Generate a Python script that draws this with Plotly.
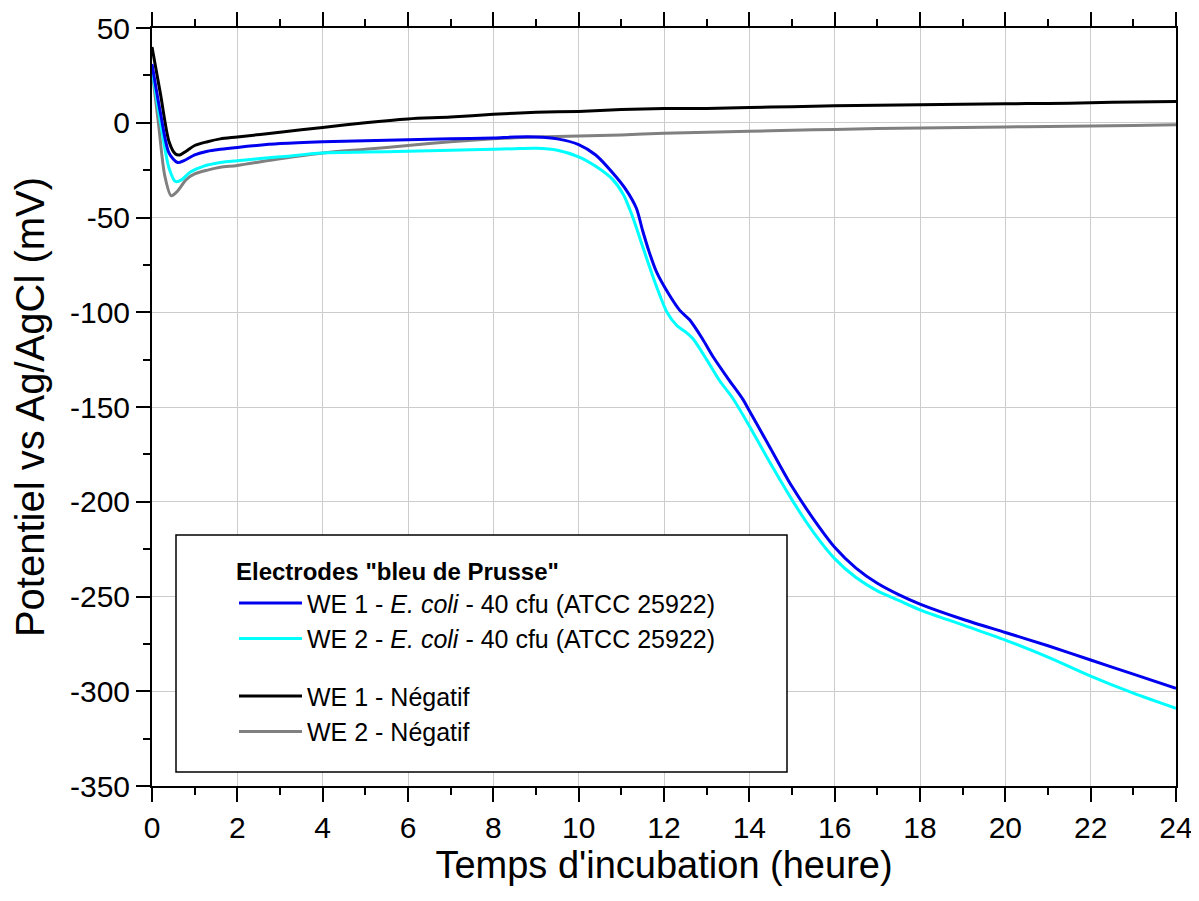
import plotly.graph_objects as go

# Temps (heure) / potentiel (mV)
t_we1_neg = [0, 0.2, 0.4, 0.55, 0.65, 0.8, 1.0, 1.3, 1.6, 2, 3, 4, 5, 6, 7, 8, 9, 10, 11, 12,
             13, 14, 15, 16, 17, 18, 19, 20, 21, 22, 23, 24]
v_we1_neg = [40, 15, -10, -16.5, -17, -15, -12, -10, -8.5, -7.5, -5, -2.5, 0, 2, 3, 4.5, 5.5, 6, 7, 7.5,
             7.5, 8, 8.5, 9, 9.2, 9.5, 9.8, 10, 10.2, 10.5, 11, 11.2]

t_we2_neg = [0, 0.15, 0.3, 0.45, 0.6, 0.8, 1.0, 1.3, 1.6, 2, 3, 4, 5, 6, 7, 8, 9, 10, 11, 12,
             13, 14, 15, 16, 17, 18, 19, 20, 21, 22, 23, 24]
v_we2_neg = [28, 0, -28, -38.5, -36, -30, -27, -25, -23.5, -22.5, -19, -16, -14, -12, -10, -8.5, -7.5, -7,
             -6.5, -5.5, -5, -4.5, -4, -3.5, -3, -2.8, -2.5, -2.2, -2, -1.7, -1.4, -1]

t_we1_ecoli = [0, 0.2, 0.4, 0.6, 0.75, 1.0, 1.3, 1.6, 2, 3, 4, 5, 6, 7, 8, 8.5, 9, 9.5, 10, 10.4,
               10.8, 11.1, 11.35, 11.5, 11.65, 11.83, 12.1, 12.37, 12.6, 12.9, 13.15, 13.5, 13.85,
               14, 14.5, 15, 15.5, 16, 16.5, 17, 17.5, 18, 19, 20, 21, 22, 23, 24]
v_we1_ecoli = [31, 5, -16, -21, -20, -17, -15, -14, -13, -11, -10, -9.5, -9, -8.5, -8, -7.5, -7.5, -8.5,
               -11.5, -17, -26.5, -35, -45, -57, -68, -79, -90, -99, -104, -114, -123.5, -135, -146,
               -152, -172, -192, -209, -224, -235, -243, -249, -254, -262, -269, -276, -283.5, -291,
               -298.5]

t_we2_ecoli = [0, 0.2, 0.4, 0.55, 0.7, 0.9, 1.2, 1.6, 2, 3, 4, 5, 6, 7, 8, 8.5, 9, 9.5, 10, 10.4,
               10.8, 11.05, 11.27, 11.45, 11.6, 11.85, 12.07, 12.3, 12.54, 12.68, 13, 13.3, 13.6,
               14, 14.5, 15, 15.5, 16, 16.5, 17, 17.5, 18, 19, 20, 21, 22, 23, 24]
v_we2_ecoli = [29, 0, -24, -31, -30, -26, -23, -21, -20, -18, -16, -15.5, -15, -14.5, -14, -13.7, -13.5,
               -14.5, -18, -23, -30, -38, -50, -62, -72, -88, -100, -107, -111, -114, -125, -136, -145,
               -160, -180, -199, -216, -230, -240, -247, -252, -257, -265, -273, -282, -292, -301, -309]

x_ticks = list(range(0, 25, 2))
y_ticks = [50, 0, -50, -100, -150, -200, -250, -300, -350]
y_ticktext = [str(v) for v in y_ticks]  # trait d'union simple, pas de signe moins unicode

FONT = "Liberation Sans, Arial, sans-serif"

series = [
    (t_we1_ecoli, v_we1_ecoli, "WE 1 - <i>E. coli</i> - 40 cfu (ATCC 25922)", "#0000ee", "ecoli"),
    (t_we2_ecoli, v_we2_ecoli, "WE 2 - <i>E. coli</i> - 40 cfu (ATCC 25922)", "#00ffff", "ecoli"),
    (t_we1_neg, v_we1_neg, "WE 1 - Négatif", "#000000", "neg"),
    (t_we2_neg, v_we2_neg, "WE 2 - Négatif", "#808080", "neg"),
]

fig = go.Figure()
# negatives drawn first so the E. coli curves sit on top; legendrank keeps the legend order
for rank, (t, v, name, color, group) in reversed(list(enumerate(series))):
    fig.add_trace(go.Scatter(
        x=t, y=v, name=name, mode="lines", legendgroup=group, legendrank=rank + 1,
        line=dict(color=color, width=3, shape="spline", smoothing=0.8),
    ))

axis_common = dict(
    showline=True, linecolor="black", linewidth=2,
    ticks="outside", ticklen=14, tickwidth=2, tickcolor="black",
    showgrid=True, gridcolor="#cccccc", gridwidth=1,
    zeroline=False, automargin=False, ticklabeloverflow="allow",
    tickfont=dict(family=FONT, size=30, color="black"),
)

fig.update_xaxes(
    range=[0, 24], tickvals=x_ticks, mirror="ticks",
    minor=dict(dtick=1, ticklen=7, tickwidth=2, tickcolor="black", ticks="outside", showgrid=False),
    title=dict(text="Temps d'incubation (heure)", font=dict(family=FONT, size=38, color="black"), standoff=8),
    **axis_common,
)
fig.update_yaxes(
    range=[-350, 50], tickvals=y_ticks, ticktext=y_ticktext, mirror=True,
    minor=dict(dtick=25, ticklen=7, tickwidth=2, tickcolor="black", ticks="outside", showgrid=False),
    title=dict(text="Potentiel vs Ag/AgCl (mV)", font=dict(family=FONT, size=40, color="black"), standoff=17),
    **axis_common,
)

# cadre de la légende
fig.add_shape(
    type="rect", xref="paper", yref="paper",
    x0=(176 - 152) / 1024, x1=(787 - 152) / 1024, y0=(786 - 772) / 758, y1=(786 - 535) / 758,
    line=dict(color="black", width=1.5), fillcolor="white", layer="above",
)

# the page body adds an 8 px offset, so the figure is sized to the window minus that
fig.update_layout(
    width=1189, height=885,
    margin=dict(l=144, r=21, t=20, b=107),
    paper_bgcolor="white", plot_bgcolor="white",
    font=dict(family=FONT, color="black"),
    showlegend=True,
    legend=dict(
        x=(234 - 152) / 1024, y=(786 - 549) / 758, xanchor="left", yanchor="top",
        bgcolor="rgba(0,0,0,0)", borderwidth=0,
        traceorder="grouped", tracegroupgap=22, itemwidth=63,
        font=dict(family=FONT, size=25, color="black"),
        title=dict(text='<b>Electrodes "bleu de Prusse"</b>', font=dict(family=FONT, size=24, color="black")),
    ),
)

fig.write_html("out.html")
